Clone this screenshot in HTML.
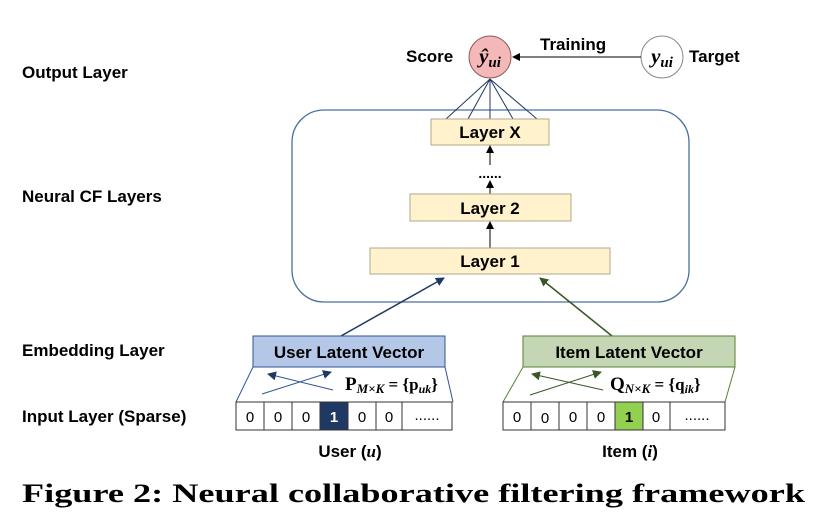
<!DOCTYPE html>
<html><head><style>
body{margin:0;background:#fff;width:826px;height:526px;overflow:hidden}
svg{display:block}
.l{font-family:"Liberation Sans",sans-serif;font-weight:bold;font-size:17px;fill:#000}
.m{font-family:"Liberation Serif",serif;font-weight:bold;font-style:italic}
.c{font-family:"Liberation Sans",sans-serif;font-size:15px;text-anchor:middle}
</style></head><body>
<svg width="826" height="526" viewBox="0 0 826 526">
<defs>
<marker id="a" markerWidth="8" markerHeight="8" refX="7" refY="4" orient="auto" markerUnits="userSpaceOnUse"><path d="M0,0L8,4L0,8z" fill="#000"/></marker>
<marker id="b" markerWidth="9" markerHeight="9" refX="8" refY="4.5" orient="auto" markerUnits="userSpaceOnUse"><path d="M0,0L9,4.5L0,9z" fill="#1f3864"/></marker>
<marker id="g" markerWidth="9" markerHeight="9" refX="8" refY="4.5" orient="auto" markerUnits="userSpaceOnUse"><path d="M0,0L9,4.5L0,9z" fill="#385723"/></marker>
</defs>
<text class="l" x="22" y="78">Output Layer</text>
<text class="l" x="22" y="202">Neural CF Layers</text>
<text class="l" x="22" y="356">Embedding Layer</text>
<text class="l" x="22" y="422">Input Layer (Sparse)</text>

<rect x="292" y="110" width="397" height="192" rx="32" fill="none" stroke="#4a6fa0" stroke-width="1.3"/>
<g stroke="#1f3864" stroke-width="1">
<line x1="490" y1="79" x2="446" y2="119"/><line x1="490" y1="79" x2="468" y2="119"/><line x1="490" y1="79" x2="490" y2="119"/><line x1="490" y1="79" x2="513" y2="119"/><line x1="490" y1="79" x2="537" y2="119"/>
</g>
<circle cx="490" cy="57" r="21" fill="#f4b8b8" stroke="#8a5a5a"/>
<text class="m" x="490" y="63" font-size="21" text-anchor="middle">ŷ<tspan font-size="15" dy="4">ui</tspan></text>
<text class="l" x="406" y="62" font-size="18">Score</text>
<circle cx="662" cy="57" r="21" fill="#fff" stroke="#888"/>
<text class="m" x="662" y="63" font-size="21" text-anchor="middle">y<tspan font-size="15" dy="4">ui</tspan></text>
<text class="l" x="689" y="62" font-size="18">Target</text>
<line x1="641" y1="57" x2="513" y2="57" stroke="#000" marker-end="url(#a)"/>
<text class="l" x="540" y="50" font-size="20">Training</text>

<rect x="431" y="119" width="118" height="26" fill="#fff2cc" stroke="#b0a98a"/>
<text class="l" x="490" y="138" text-anchor="middle">Layer X</text>
<text x="490" y="178" text-anchor="middle" font-family="Liberation Sans" font-size="14" font-weight="bold">......</text>
<line x1="490" y1="165" x2="490" y2="146" stroke="#000" marker-end="url(#a)"/>
<line x1="490" y1="194" x2="490" y2="181" stroke="#000" marker-end="url(#a)"/>
<rect x="410" y="194" width="161" height="27" fill="#fff2cc" stroke="#b0a98a"/>
<text class="l" x="490" y="214" text-anchor="middle">Layer 2</text>
<line x1="490" y1="248" x2="490" y2="222" stroke="#000" marker-end="url(#a)"/>
<rect x="370" y="248" width="240" height="26" fill="#fff2cc" stroke="#b0a98a"/>
<text class="l" x="490" y="267" text-anchor="middle">Layer 1</text>

<line x1="341" y1="336" x2="444" y2="278" stroke="#1f3864" stroke-width="1.5" marker-end="url(#b)"/>
<line x1="612" y1="336" x2="540" y2="278" stroke="#385723" stroke-width="1.5" marker-end="url(#g)"/>

<rect x="253" y="336" width="192" height="31" fill="#b4c7e7" stroke="#2f5597"/>
<text class="l" x="349" y="358" text-anchor="middle" font-size="18">User Latent Vector</text>
<line x1="253" y1="367" x2="236" y2="402" stroke="#2f5597"/><line x1="445" y1="367" x2="453" y2="402" stroke="#2f5597"/>
<line x1="333" y1="390" x2="268" y2="374" stroke="#2f5597" marker-end="url(#b)"/>
<line x1="262" y1="394" x2="331" y2="372" stroke="#2f5597" marker-end="url(#b)"/>
<text x="345" y="390" font-family="Liberation Serif" font-weight="bold" font-size="19">P<tspan font-size="13" font-style="italic" dy="3">M×K</tspan><tspan dy="-3" font-size="17"> = {</tspan><tspan font-size="17">p</tspan><tspan font-size="12" font-style="italic" dy="3">uk</tspan><tspan dy="-3" font-size="17">}</tspan></text>
<g stroke="#333" fill="#fff">
<rect x="236" y="402" width="28" height="28"/><rect x="264" y="402" width="28" height="28"/><rect x="292" y="402" width="28" height="28"/>
<rect x="320" y="402" width="28" height="28" fill="#203864"/><rect x="348" y="402" width="28" height="28"/><rect x="376" y="402" width="26" height="28"/><rect x="402" y="402" width="50" height="28"/>
</g>
<g class="c"><text x="250" y="422">0</text><text x="278" y="422">0</text><text x="306" y="422">0</text><text x="334" y="422" fill="#fff" font-weight="bold">1</text><text x="362" y="422">0</text><text x="389" y="422">0</text><text x="427" y="420">......</text></g>
<text class="l" x="350" y="457" text-anchor="middle" font-size="18">User (<tspan class="m">u</tspan>)</text>

<rect x="523" y="336" width="212" height="31" fill="#c5d6b4" stroke="#548235"/>
<text class="l" x="629" y="358" text-anchor="middle" font-size="18">Item Latent Vector</text>
<line x1="523" y1="367" x2="503" y2="402" stroke="#548235"/><line x1="735" y1="367" x2="725" y2="402" stroke="#548235"/>
<line x1="603" y1="390" x2="532" y2="374" stroke="#385723" marker-end="url(#g)"/>
<line x1="530" y1="395" x2="601" y2="372" stroke="#385723" marker-end="url(#g)"/>
<text x="610" y="390" font-family="Liberation Serif" font-weight="bold" font-size="19">Q<tspan font-size="13" font-style="italic" dy="3">N×K</tspan><tspan dy="-3" font-size="17"> = {</tspan><tspan font-size="17">q</tspan><tspan font-size="12" font-style="italic" dy="3">ik</tspan><tspan dy="-3" font-size="17">}</tspan></text>
<g stroke="#333" fill="#fff">
<rect x="503" y="402" width="28" height="28"/><rect x="531" y="402" width="28" height="28"/><rect x="559" y="402" width="28" height="28"/><rect x="587" y="402" width="28" height="28"/>
<rect x="615" y="402" width="28" height="28" fill="#92d050"/><rect x="643" y="402" width="27" height="28"/><rect x="670" y="402" width="55" height="28"/>
</g>
<g class="c"><text x="517" y="422">0</text><text x="545" y="423">0</text><text x="573" y="422">0</text><text x="601" y="422">0</text><text x="629" y="422" font-weight="bold">1</text><text x="656" y="422">0</text><text x="697" y="420">......</text></g>
<text class="l" x="630" y="457" text-anchor="middle" font-size="18">Item (<tspan class="m">i</tspan>)</text>

<text x="22" y="502" font-family="Liberation Serif" font-weight="bold" font-size="26" textLength="783" lengthAdjust="spacingAndGlyphs">Figure 2:  Neural collaborative filtering framework</text>
</svg>
</body></html>
